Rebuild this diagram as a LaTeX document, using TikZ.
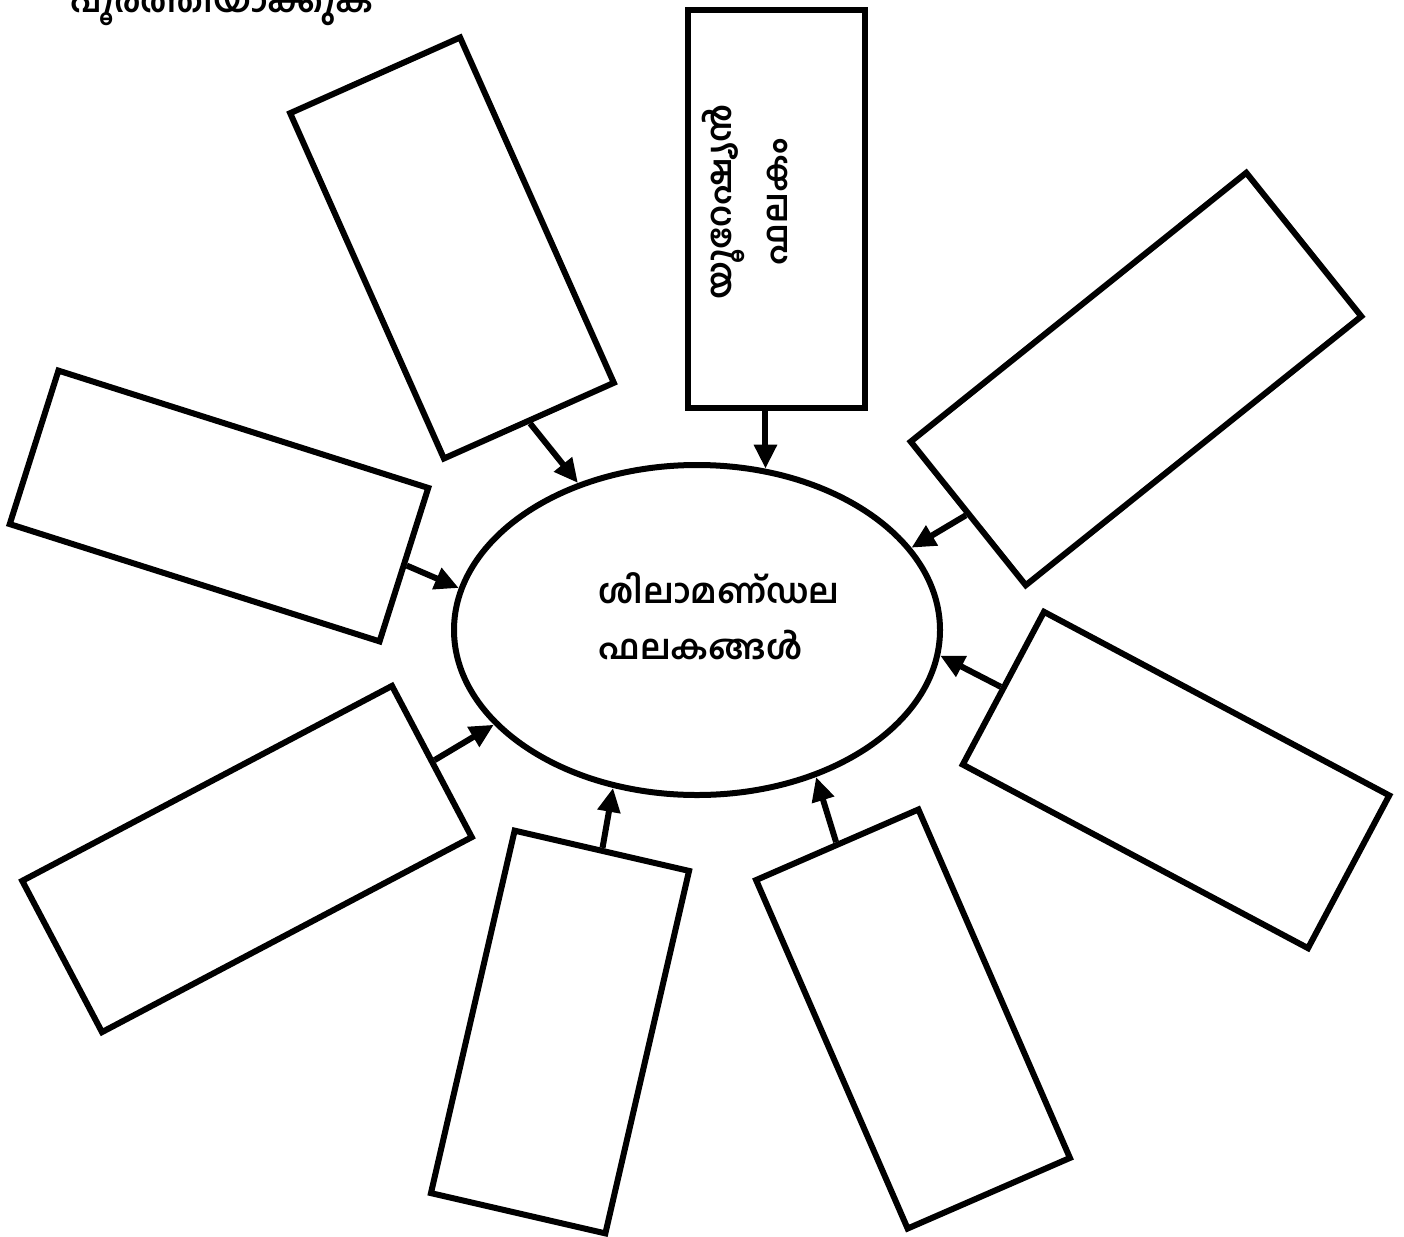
\documentclass[tikz,border=0pt]{standalone}
\usepackage{fontspec}
\newfontfamily\mlfont[Script=Malayalam]{Hind Kochi}
\usetikzlibrary{shapes.geometric, arrows.meta, calc}

\tikzset{
  platebox/.style={draw, line width=6pt, rectangle, inner sep=0pt},
  plate/.style={draw, line width=6pt, ellipse, inner sep=0pt,
    minimum width=486pt, minimum height=330pt},
  push/.style={line width=6pt, -{Triangle[length=24pt,width=22pt]}},
  mltext/.style={font=\mlfont\bfseries\fontsize{34}{56}\selectfont}
}

\begin{document}
\begin{tikzpicture}[x=1pt,y=-1pt]
\useasboundingbox (0,0) rectangle (1404,1236);
% cut-off task line at the top
\node[mltext, anchor=base west, inner sep=0pt] (task) at (70,13) {പൂർത്തിയാക്കുക};
% central ellipse
\node[plate] (plate) at (697,630) {};
\node[mltext, align=left] (platetext) at (719,616) {ശിലാമണ്^^^^200cഡല\\ഫലകങ്ങൾ};
% boxes round the ellipse
\node[platebox, minimum width=177pt, minimum height=398pt] (b1) at (776,209) {};
\node[mltext, rotate=90, align=center] (b1text) at (745,202) {യൂറേഷ്യൻ\\ഫലകം};
\node[platebox, rotate=24, minimum width=186pt, minimum height=378pt] (b2) at (452,248) {};
\node[platebox, rotate=-17.6, minimum width=388pt, minimum height=161pt] (b3) at (219,506) {};
\node[platebox, rotate=27.8, minimum width=418pt, minimum height=171pt] (b4) at (247,859) {};
\node[platebox, rotate=-13, minimum width=179pt, minimum height=372pt] (b5) at (560,1032) {};
\node[platebox, rotate=23.5, minimum width=177pt, minimum height=380pt] (b6) at (913,1019) {};
\node[platebox, rotate=-28, minimum width=391pt, minimum height=173pt] (b7) at (1176,780) {};
\node[platebox, rotate=38.7, minimum width=430pt, minimum height=184pt] (b8) at (1136,379) {};
% arrows into the ellipse
\draw[push] (plate.67 |- b1.south) -- (plate.67);
\draw[push] (b2.south) -- (plate.129);
\draw[push] (b3.east) -- (plate.170);
\draw[push] (b4.east) -- (plate.205);
\draw[push] (b5.north) -- (plate.242);
\draw[push] (b6.north) -- (plate.309);
\draw[push] (b7.west) -- (plate.354);
\draw[push] (b8.west) -- (plate.21);
\end{tikzpicture}
\end{document}
